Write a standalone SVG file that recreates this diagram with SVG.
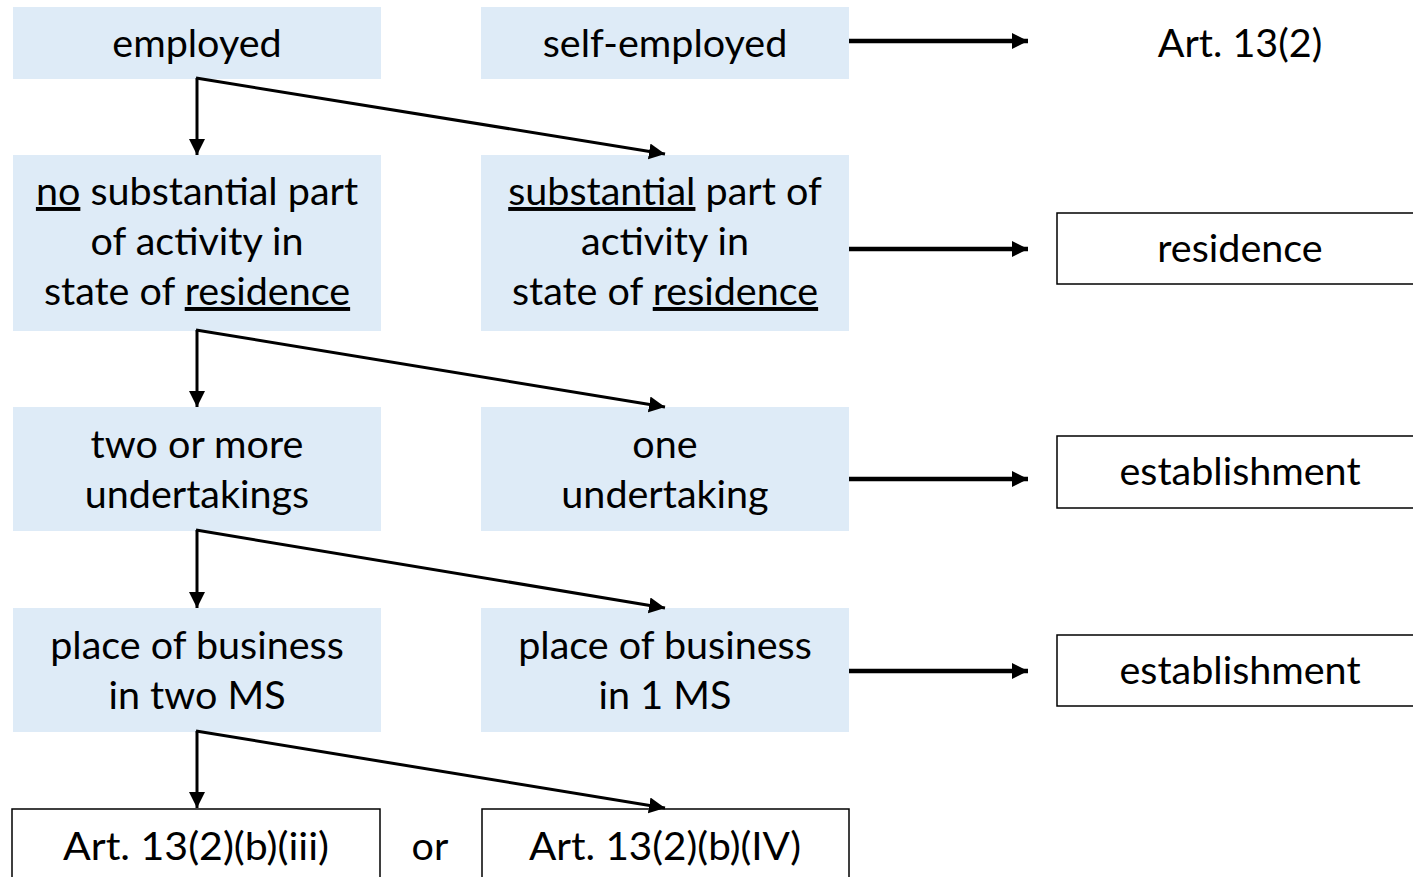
<svg xmlns="http://www.w3.org/2000/svg" width="1413" height="877" viewBox="0 0 1413 877">
<style>
.blue{fill:#DEEBF7;}
.out{fill:#FFFFFF;stroke:#000;stroke-width:1.5;}
text{font-family:Lato,"Liberation Sans",sans-serif;font-size:39.5px;fill:#000;text-anchor:middle;}
.u{text-decoration:underline;}
.c{stroke:#000;fill:none;}
.thick{stroke-width:4.5;}
.thin{stroke-width:3;}
</style>
<defs>
<marker id="ah" markerUnits="userSpaceOnUse" markerWidth="18" markerHeight="18" refX="16" refY="8" orient="auto" viewBox="0 0 18 18">
<path d="M0,0 L16,8 L0,16 z" fill="#000"/>
</marker>
<marker id="as" markerUnits="userSpaceOnUse" markerWidth="18" markerHeight="18" refX="16" refY="8" orient="auto" viewBox="0 0 18 18">
<path d="M0,0 L16,8 L0,16 z" fill="#000"/>
</marker>
</defs>
<g id="n-employed"><rect class="blue" x="13" y="7" width="368" height="72"/><text x="197" y="57">employed</text></g>
<g id="n-self"><rect class="blue" x="481" y="7" width="368" height="72"/><text x="665" y="57">self-employed</text></g>
<g id="n-art132"><text x="1240" y="57">Art. 13(2)</text></g>
<g id="n-nosub"><rect class="blue" x="13" y="155" width="368" height="176"/>
<text x="197" y="205"><tspan class="u">no</tspan> substantial part</text>
<text x="197" y="255">of activity in</text>
<text x="197" y="305">state of <tspan class="u">residence</tspan></text></g>
<g id="n-sub"><rect class="blue" x="481" y="155" width="368" height="176"/>
<text x="665" y="205"><tspan class="u">substantial</tspan> part of</text>
<text x="665" y="255">activity in</text>
<text x="665" y="305">state of <tspan class="u">residence</tspan></text></g>
<g id="n-residence"><rect class="out" x="1057" y="213" width="370" height="71"/><text x="1240" y="262">residence</text></g>
<g id="n-two"><rect class="blue" x="13" y="407" width="368" height="124"/>
<text x="197" y="458">two or more</text><text x="197" y="508">undertakings</text></g>
<g id="n-one"><rect class="blue" x="481" y="407" width="368" height="124"/>
<text x="665" y="458">one</text><text x="665" y="508">undertaking</text></g>
<g id="n-est1"><rect class="out" x="1057" y="436" width="370" height="72"/><text x="1240" y="485">establishment</text></g>
<g id="n-pob2"><rect class="blue" x="13" y="608" width="368" height="124"/>
<text x="197" y="659">place of business</text><text x="197" y="709">in two MS</text></g>
<g id="n-pob1"><rect class="blue" x="481" y="608" width="368" height="124"/>
<text x="665" y="659">place of business</text><text x="665" y="709">in 1 MS</text></g>
<g id="n-est2"><rect class="out" x="1057" y="635" width="370" height="71"/><text x="1240" y="684">establishment</text></g>
<g id="n-iii"><rect class="out" x="12" y="809" width="368" height="80"/><text x="196" y="860" textLength="266" lengthAdjust="spacingAndGlyphs">Art. 13(2)(b)(iii)</text></g>
<g id="n-or"><text x="430" y="860">or</text></g>
<g id="n-iv"><rect class="out" x="482" y="809" width="367" height="80"/><text x="665" y="860" textLength="272" lengthAdjust="spacingAndGlyphs">Art. 13(2)(b)(IV)</text></g>
<g id="connectors">
<line class="c thick" x1="849" y1="41" x2="1028" y2="41" marker-end="url(#ah)"/>
<line class="c thick" x1="849" y1="249" x2="1028" y2="249" marker-end="url(#ah)"/>
<line class="c thick" x1="849" y1="479" x2="1028" y2="479" marker-end="url(#ah)"/>
<line class="c thick" x1="849" y1="671" x2="1028" y2="671" marker-end="url(#ah)"/>
<line class="c thin" x1="197" y1="78" x2="197" y2="155" marker-end="url(#as)"/>
<line class="c thin" x1="196" y1="78" x2="665" y2="154" marker-end="url(#as)"/>
<line class="c thin" x1="197" y1="330" x2="197" y2="407" marker-end="url(#as)"/>
<line class="c thin" x1="196" y1="330" x2="665" y2="407" marker-end="url(#as)"/>
<line class="c thin" x1="197" y1="530" x2="197" y2="608" marker-end="url(#as)"/>
<line class="c thin" x1="196" y1="530" x2="665" y2="608" marker-end="url(#as)"/>
<line class="c thin" x1="197" y1="731" x2="197" y2="808" marker-end="url(#as)"/>
<line class="c thin" x1="196" y1="731" x2="665" y2="808" marker-end="url(#as)"/>
</g>
</svg>
